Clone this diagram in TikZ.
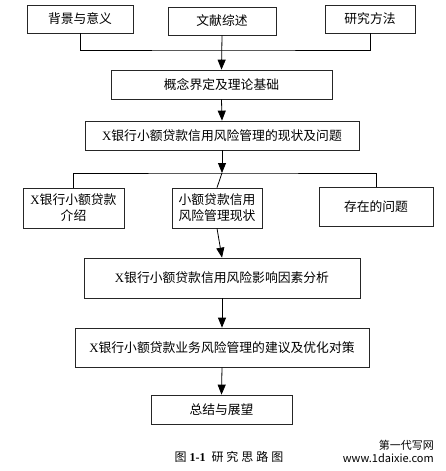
\documentclass[tikz,border=0pt]{standalone}
\usepackage{fontspec}
\setmainfont{Liberation Serif}
\newfontfamily\cjk{Noto Sans CJK SC}
\newfontfamily\cjkwide[LetterSpace=25]{Noto Sans CJK SC}
\usetikzlibrary{arrows.meta}
\tikzset{
  stagebox/.style={draw=black!85, line width=0.7pt, fill=white, inner sep=0pt,
    align=center, font=\fontsize{12.8}{16}\selectfont\cjk},
  flowline/.style={line width=0.8pt},
  flowarrow/.style={flowline, -{Triangle[length=10pt,width=8pt]}}
}
\begin{document}
\begin{tikzpicture}[x=1pt,y=-1pt]
  \useasboundingbox (0,0) rectangle (445,471);
  % top row
  \node[stagebox, minimum width=106, minimum height=28] (bg) at (80,19) {背景与意义};
  \node[stagebox, minimum width=108, minimum height=28] (lit) at (222,21) {文献综述};
  \node[stagebox, minimum width=90, minimum height=28] (meth) at (370,19) {研究方法};
  \node[stagebox, minimum width=221, minimum height=29] (basis) at (221.5,84.5) {概念界定及理论基础};
  \node[stagebox, minimum width=274, minimum height=29] (status) at (222,135.5)
    {{\rmfamily X}银行小额贷款信用风险管理的现状及问题};
  % middle row
  \node[stagebox, minimum width=101, minimum height=40] (intro) at (73.5,208)
    {{\rmfamily X}银行小额贷款\\介绍};
  \node[stagebox, minimum width=90, minimum height=40] (now) at (217,208)
    {小额贷款信用\\风险管理现状};
  \node[stagebox, minimum width=114, minimum height=39] (prob) at (376,207) {存在的问题};
  \node[stagebox, minimum width=276, minimum height=40] (factor) at (222,278)
    {{\rmfamily X}银行小额贷款信用风险影响因素分析};
  \node[stagebox, minimum width=294, minimum height=39] (advice) at (222,347.5)
    {{\rmfamily X}银行小额贷款业务风险管理的建议及优化对策};
  \node[stagebox, minimum width=141, minimum height=29] (summ) at (221.5,409.5) {总结与展望};

  % joints
  \coordinate (j1) at (lit.south |- 0,50);
  \coordinate (j2) at (status.south |- 0,173);

  \draw[flowline] (bg.south) |- (j1) -| (meth.south);
  \draw[flowarrow] (lit.south) -- (basis.north);
  \draw[flowarrow] (basis.south) -- (status.north);
  \draw[flowarrow] (status.south) -- (j2);
  \draw[flowline] (intro.north) |- (j2) -| (prob.north);
  \draw[flowline] (j2) -- (now.north);
  \draw[flowarrow] (now.south) -- (factor.north);
  \draw[flowarrow] (factor.south) -- (advice.north);
  \draw[flowarrow] (advice.south) -- (summ.north);

  % caption
  \node[font=\fontsize{12}{14}\selectfont] (cap) at (229,457)
    {{\cjk 图} \textbf{1-1}\ \ {\cjkwide 研究思路图}};
  \node[anchor=east, align=right, inner sep=0pt, font=\fontsize{11}{13}\selectfont\cjk] (mark) at (434,451)
    {第一代写网\\www.1daixie.com};
\end{tikzpicture}
\end{document}
